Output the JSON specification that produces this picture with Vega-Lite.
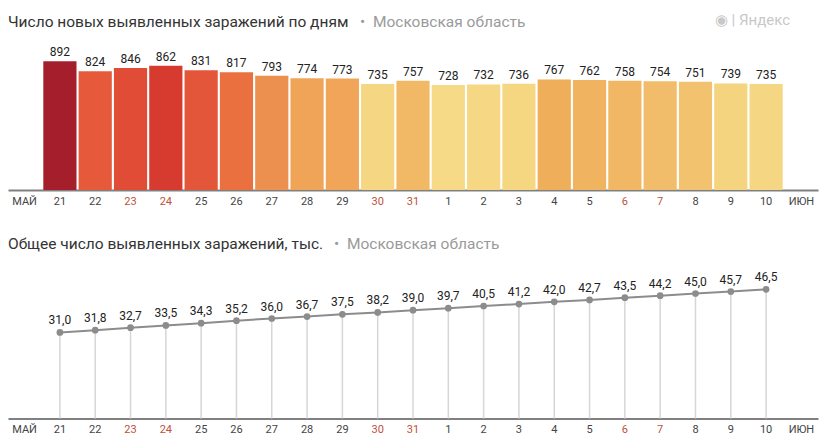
{
  "$schema": "https://vega.github.io/schema/vega-lite/v6.json",
  "padding": {"left": 8, "top": 13, "right": 2, "bottom": 0},
  "background": "white",
  "title": {"text": "◉ | Яндекс", "anchor": "end", "color": "#c8c8c8", "fontSize": 15, "offset": 0, "dy": 13, "dx": -28},
  "data": {"values": [
    {"day": "21", "new": 892, "total": 31.0},
    {"day": "22", "new": 824, "total": 31.8},
    {"day": "23", "new": 846, "total": 32.7},
    {"day": "24", "new": 862, "total": 33.5},
    {"day": "25", "new": 831, "total": 34.3},
    {"day": "26", "new": 817, "total": 35.2},
    {"day": "27", "new": 793, "total": 36.0},
    {"day": "28", "new": 774, "total": 36.7},
    {"day": "29", "new": 773, "total": 37.5},
    {"day": "30", "new": 735, "total": 38.2},
    {"day": "31", "new": 757, "total": 39.0},
    {"day": "1", "new": 728, "total": 39.7},
    {"day": "2", "new": 732, "total": 40.5},
    {"day": "3", "new": 736, "total": 41.2},
    {"day": "4", "new": 767, "total": 42.0},
    {"day": "5", "new": 762, "total": 42.7},
    {"day": "6", "new": 758, "total": 43.5},
    {"day": "7", "new": 754, "total": 44.2},
    {"day": "8", "new": 751, "total": 45.0},
    {"day": "9", "new": 739, "total": 45.7},
    {"day": "10", "new": 735, "total": 46.5}
  ]},
  "spacing": 30.5,
  "vconcat": [
    {
      "width": 810,
      "height": 150,
      "title": {
        "text": "•\u00a0 Московская область",
        "color": "#9a9a9a",
        "subtitle": "Число новых выявленных заражений по дням",
        "subtitleColor": "#333333",
        "subtitleFontSize": 15.5,
        "subtitlePadding": -15.5,
        "fontSize": 15.5,
        "anchor": "start",
        "offset": 9.5,
        "encoding": {"dx": {"value": 352}}
      },
      "encoding": {
        "x": {
          "field": "day", "type": "nominal",
          "scale": {"domain": ["МАЙ","21","22","23","24","25","26","27","28","29","30","31","1","2","3","4","5","6","7","8","9","10","ИЮН"], "paddingInner": 0.06, "paddingOuter": 0},
          "axis": {"title": null, "labelAngle": 0, "labelColor": {"condition": {"test": "indexof(['23','24','30','31','6','7'], datum.value) >= 0", "value": "#c0503a"}, "value": "#444444"}}
        }
      },
      "layer": [
        {
          "mark": {"type": "bar"},
          "encoding": {
            "y": {"field": "new", "type": "quantitative", "scale": {"domain": [0, 1040], "nice": false}, "axis": null},
            "color": {"field": "new", "type": "quantitative", "legend": null,
              "scale": {"type": "linear", "interpolate": "rgb",
                "domain": [728, 739, 751, 757, 767, 774, 793, 817, 824, 846, 862, 892],
                "range": ["#f6da87", "#f5d47f", "#f2c26f", "#f1b866", "#efae5a", "#f0a458", "#ec9050", "#ea7040", "#e65a3b", "#e04c35", "#d73a2e", "#a41f2b"]}}
          }
        },
        {
          "mark": {"type": "text", "baseline": "alphabetic", "dy": -5, "fontSize": 12, "color": "#222222"},
          "encoding": {
            "y": {"field": "new", "type": "quantitative"},
            "text": {"field": "new", "type": "quantitative"}
          }
        }
      ]
    },
    {
      "width": 810,
      "height": 150,
      "title": {
        "text": "•\u00a0 Московская область",
        "color": "#9a9a9a",
        "subtitle": "Общее число выявленных заражений, тыс.",
        "subtitleColor": "#333333",
        "subtitleFontSize": 15.5,
        "subtitlePadding": -15.5,
        "fontSize": 15.5,
        "anchor": "start",
        "offset": 16,
        "encoding": {"dx": {"value": 326}}
      },
      "encoding": {
        "x": {
          "field": "day", "type": "nominal",
          "scale": {"domain": ["МАЙ","21","22","23","24","25","26","27","28","29","30","31","1","2","3","4","5","6","7","8","9","10","ИЮН"], "paddingInner": 0.06, "paddingOuter": 0},
          "axis": {"title": null, "labelAngle": 0, "labelColor": {"condition": {"test": "indexof(['23','24','30','31','6','7'], datum.value) >= 0", "value": "#c0503a"}, "value": "#444444"}}
        }
      },
      "layer": [
        {
          "mark": {"type": "rule", "color": "#d6d6d6", "strokeWidth": 1.5},
          "encoding": {
            "y": {"field": "total", "type": "quantitative", "scale": {"domain": [0, 54], "nice": false}, "axis": null},
            "y2": {"datum": 0}
          }
        },
        {
          "mark": {"type": "line", "color": "#8c8c8c", "strokeWidth": 2, "order": false},
          "encoding": {"y": {"field": "total", "type": "quantitative"}}
        },
        {
          "mark": {"type": "point", "filled": true, "color": "#8c8c8c", "size": 45, "opacity": 1},
          "encoding": {"y": {"field": "total", "type": "quantitative"}}
        },
        {
          "mark": {"type": "text", "baseline": "alphabetic", "dy": -8, "fontSize": 12, "color": "#222222"},
          "encoding": {
            "y": {"field": "total", "type": "quantitative"},
            "text": {"field": "total", "type": "quantitative", "format": ".1f"}
          }
        }
      ]
    }
  ],
  "config": {
    "font": "Roboto",
    "view": {"stroke": null},
    "axis": {"domainColor": "#808080", "domainWidth": 2, "ticks": false, "grid": false, "labelFont": "Roboto", "labelFontSize": 11, "labelPadding": 5},
    "title": {"font": "Roboto", "fontWeight": "normal", "subtitleFont": "Roboto", "subtitleFontWeight": "normal"},
    "text": {"font": "Roboto"},
    "locale": {"number": {"decimal": ",", "thousands": " ", "grouping": [3], "currency": ["", ""]}}
  }
}
